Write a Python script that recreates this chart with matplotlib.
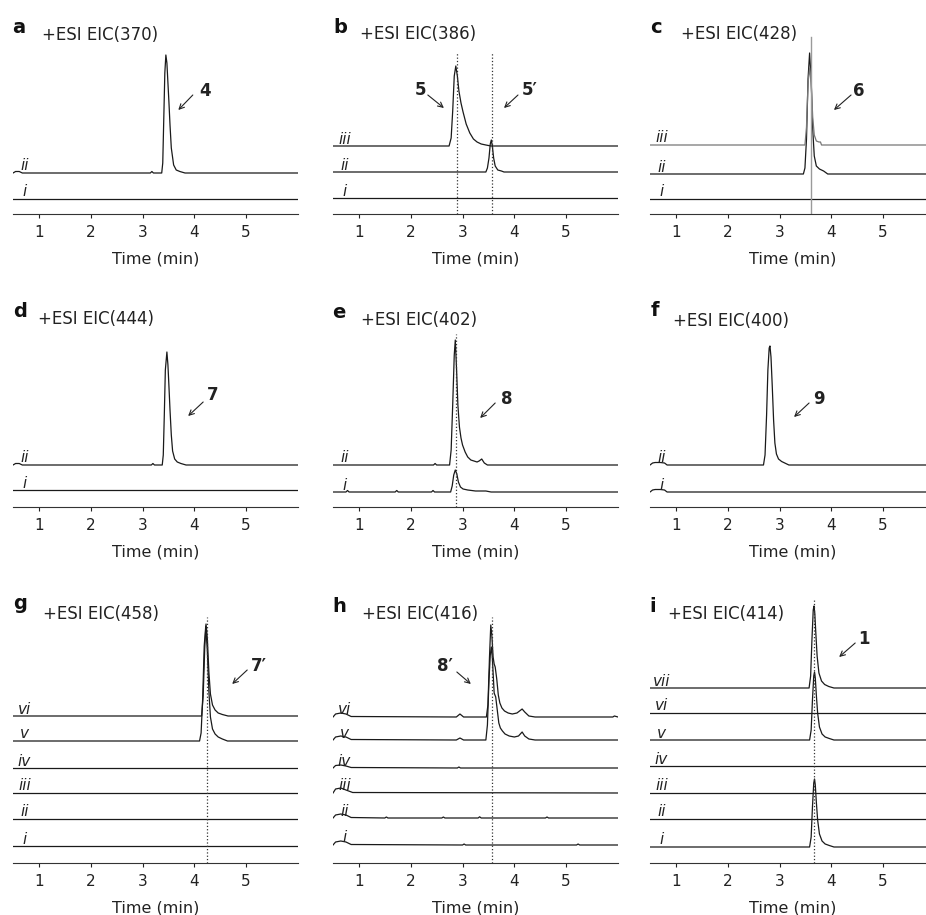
import matplotlib
matplotlib.use("Agg")
import matplotlib.pyplot as plt

W, H = 926, 915
plt.rcParams['font.family'] = ['DejaVu Sans']

# ---------------- data (time in min, intensity in relative units) ----------------
FLAT_T = [0.5, 6.0]
FLAT_Y = [0, 0]

# panel a  EIC(370)
a_ii_t = [0.5, 0.55, 0.62, 0.68, 3.15, 3.18, 3.21, 3.37, 3.39, 3.41, 3.43, 3.45, 3.47, 3.49, 3.51, 3.53, 3.555, 3.60, 3.65, 3.72, 3.82, 6.0]
a_ii_y = [0, 1.5, 1.5, 0, 0, 1.5, 0, 0, 10, 55, 100, 118, 110, 90, 70, 48, 25, 8, 3, 1.5, 0, 0]

# panel b  EIC(386)
b_ii_t = [0.5, 3.45, 3.48, 3.51, 3.535, 3.555, 3.575, 3.60, 3.63, 3.68, 3.75, 3.80, 6.0]
b_ii_y = [0, 0, 4, 14, 28, 32, 26, 14, 6, 2, 1, 0, 0]
b_iii_t = [0.5, 2.74, 2.78, 2.81, 2.84, 2.87, 2.90, 2.93, 2.97, 3.01, 3.07, 3.14, 3.21, 3.28, 3.36, 3.45, 3.55, 6.0]
b_iii_y = [0, 0, 8, 35, 70, 80, 70, 55, 43, 34, 22, 13, 7, 4, 2, 1, 0, 0]

# panel c  EIC(428)
c_ii_t = [0.5, 3.46, 3.49, 3.52, 3.55, 3.58, 3.61, 3.64, 3.67, 3.71, 3.77, 3.85, 3.93, 6.0]
c_ii_y = [0, 0, 6, 35, 95, 121, 95, 45, 18, 8, 5, 3, 0, 0]
c_iii_t = [0.5, 3.49, 3.52, 3.55, 3.58, 3.61, 3.64, 3.67, 3.71, 3.76, 3.79, 3.81, 6.0]
c_iii_y = [0, 0, 18, 62, 77, 62, 28, 10, 4, 3, 3, 0, 0]

# panel d  EIC(444)
d_ii_t = [0.5, 0.55, 0.62, 0.68, 3.17, 3.20, 3.23, 3.38, 3.40, 3.42, 3.44, 3.47, 3.49, 3.51, 3.53, 3.555, 3.58, 3.62, 3.67, 3.74, 3.84, 6.0]
d_ii_y = [0, 1.5, 1.5, 0, 0, 1.5, 0, 0, 10, 50, 95, 113, 100, 78, 55, 30, 14, 6, 3, 1.5, 0, 0]

# panel e  EIC(402)
e_i_t = [0.5, 0.75, 0.78, 0.81, 1.70, 1.73, 1.76, 2.40, 2.43, 2.46, 2.77, 2.80, 2.83, 2.86, 2.89, 2.92, 2.96, 3.01, 3.10, 3.25, 3.45, 3.55, 6.0]
e_i_y = [0, 0, 1.5, 0, 0, 1.5, 0, 0, 1.5, 0, 0, 6, 17, 22, 18, 10, 5, 3, 2, 1, 1, 0, 0]
e_ii_t = [0.5, 2.44, 2.47, 2.50, 2.75, 2.78, 2.81, 2.84, 2.86, 2.885, 2.91, 2.94, 2.97, 3.0, 3.05, 3.1, 3.16, 3.22, 3.28, 3.32, 3.37, 3.42, 3.48, 6.0]
e_ii_y = [0, 0, 1.5, 0, 0, 15, 60, 110, 125, 95, 60, 38, 27, 20, 13, 8, 5, 4, 3, 4, 6, 2, 0, 0]

# panel f  EIC(400)
f_i_t = [0.5, 0.55, 0.6, 0.7, 0.78, 0.83, 6.0]
f_i_y = [0, 2, 2.5, 2.5, 2, 0, 0]
f_ii_t = [0.5, 0.55, 0.6, 0.7, 0.78, 0.83, 2.69, 2.72, 2.75, 2.775, 2.80, 2.815, 2.835, 2.86, 2.885, 2.91, 2.94, 2.98, 3.04, 3.10, 3.18, 6.0]
f_ii_y = [0, 2, 2.5, 2.5, 2, 0, 0, 10, 50, 95, 117, 119, 108, 78, 45, 22, 11, 6, 3.5, 2, 0, 0]

# panel g  EIC(458)
g_v_t = [0.5, 4.10, 4.13, 4.16, 4.19, 4.22, 4.25, 4.28, 4.31, 4.35, 4.40, 4.46, 4.54, 4.64, 6.0]
g_v_y = [0, 0, 8, 42, 95, 115, 90, 50, 24, 12, 7, 4, 2, 0, 0]
g_vi_t = [0.5, 4.14, 4.17, 4.20, 4.225, 4.25, 4.28, 4.31, 4.35, 4.40, 4.46, 4.54, 4.65, 6.0]
g_vi_y = [0, 0, 20, 68, 92, 78, 44, 22, 11, 6, 3, 1.5, 0, 0]

# panel h  EIC(416)
h_i_t = [0.5, 0.55, 0.65, 0.75, 0.85, 3.0, 3.03, 3.06, 5.2, 5.23, 5.26, 6.0]
h_i_y = [0, 3, 4, 3, 0.5, 0, 1, 0, 0, 1, 0, 0]
h_ii_t = [0.5, 0.55, 0.65, 0.75, 0.85, 1.5, 1.53, 1.56, 2.6, 2.63, 2.66, 3.3, 3.33, 3.36, 4.6, 4.63, 4.66, 6.0]
h_ii_y = [0, 3, 4, 3, 0.5, 0, 1, 0, 0, 1, 0, 0, 1.2, 0, 0, 1, 0, 0]
h_iii_t = [0.5, 0.55, 0.65, 0.75, 0.88, 6.0]
h_iii_y = [0, 4, 5, 3, 0.5, 0]
h_iv_t = [0.5, 0.55, 0.65, 0.75, 0.85, 2.9, 2.93, 2.96, 6.0]
h_iv_y = [0, 2.5, 3, 2, 0.5, 0, 1, 0, 0]
h_v_t = [0.5, 0.55, 0.65, 0.75, 0.85, 2.88, 2.95, 3.02, 3.45, 3.48, 3.51, 3.535, 3.555, 3.575, 3.595, 3.61, 3.64, 3.67, 3.70, 3.73, 3.77, 3.82, 3.90, 4.00, 4.08, 4.15, 4.20, 4.28, 4.40, 6.0]
h_v_y = [0, 3, 4, 3, 0.5, 0, 2, 0, 0, 15, 60, 85, 93, 82, 62, 47, 43, 30, 17, 12, 9, 6, 4, 3, 4, 8, 4, 1, 0, 0]
h_vi_t = [0.5, 0.55, 0.65, 0.75, 0.85, 2.88, 2.95, 3.02, 3.46, 3.49, 3.52, 3.545, 3.565, 3.59, 3.61, 3.63, 3.66, 3.69, 3.72, 3.76, 3.81, 3.88, 3.96, 4.05, 4.10, 4.15, 4.20, 4.28, 4.40, 5.90, 5.93, 6.0]
h_vi_y = [0, 3, 4, 3, 0.5, 0, 3, 0, 0, 12, 60, 92, 82, 60, 53, 50, 38, 22, 14, 9, 6, 4, 3, 4, 6, 8, 5, 1, 0, 0, 1, 0]

# panel i  EIC(414)
i_i_t = [0.5, 3.58, 3.61, 3.635, 3.66, 3.675, 3.69, 3.71, 3.735, 3.77, 3.82, 3.88, 3.96, 4.05, 6.0]
i_i_y = [0, 0, 10, 40, 64, 68, 62, 45, 27, 13, 6, 3, 1.5, 0, 0]
i_v_t = [0.5, 3.58, 3.61, 3.635, 3.66, 3.675, 3.69, 3.71, 3.735, 3.77, 3.82, 3.88, 3.96, 4.05, 6.0]
i_v_y = [0, 0, 10, 40, 64, 68, 62, 45, 27, 13, 6, 3, 1.5, 0, 0]
i_vii_t = [0.5, 3.57, 3.60, 3.625, 3.65, 3.665, 3.68, 3.70, 3.725, 3.76, 3.81, 3.87, 3.95, 4.05, 6.0]
i_vii_y = [0, 0, 12, 48, 78, 82, 75, 55, 32, 15, 7, 3.5, 1.5, 0, 0]

TICKS = [1, 2, 3, 4, 5]
ROMAN = ['i', 'ii', 'iii', 'iv', 'v', 'vi', 'vii']

# ---------------- layout (pixels) ----------------
COL_LEFT = [13, 333, 650]
AX_W = 285
ROW_BOT = [214, 507, 863]
ROW_TOP = [30, 320, 595]
XLIM = (0.5, 6.0)

fig = plt.figure(figsize=(W / 100, H / 100), dpi=100)

def make_ax(r, c):
    left, bot, top = COL_LEFT[c], ROW_BOT[r], ROW_TOP[r]
    ax = fig.add_axes([left / W, 1 - bot / H, AX_W / W, (bot - top) / H])
    ax.set_xlim(*XLIM)
    ax.set_ylim(0, bot - top)
    ax.patch.set_visible(False)
    for s in ['top', 'left', 'right']:
        ax.spines[s].set_visible(False)
    ax.spines['bottom'].set_linewidth(0.8)
    ax.spines['bottom'].set_color('#333333')
    ax.set_yticks([])
    ax.set_xticks(TICKS)
    ax.set_xticklabels([str(t) for t in TICKS])
    ax.tick_params(axis='x', direction='out', length=3, width=0.8, pad=5,
                   labelsize=11, colors='#222222')
    ax.set_xlabel('Time (min)', fontsize=11.5, labelpad=8.5, color='#222222')
    return ax

def ftext(x, y, s, **kw):
    fig.text(x / W, 1 - y / H, s, **kw)

def draw(ax, traces, offsets, colors=None):
    for k, ((t, y), off) in enumerate(zip(traces, offsets)):
        col = colors[k] if colors else '#1a1a1a'
        ax.plot(t, [v + off for v in y], color=col, lw=0.9, solid_joinstyle='round')
        ax.text(0.72, off + 2.5, ROMAN[k], style='italic', fontsize=11,
                ha='center', va='baseline', color='#222222')

def vref(ax, x, top, ls=':', color='#333333', lw=0.9):
    ax.plot([x, x], [0, top], ls=ls, color=color, lw=lw)

def label(ax, s, tx, ty, x0, y0, x1, y1):
    ax.text(tx, ty, s, fontsize=12, fontweight='bold', ha='center', va='center', color='#222222')
    ax.annotate('', xy=(x1, y1), xytext=(x0, y0),
                arrowprops=dict(arrowstyle='->', lw=0.8, color='#222222',
                                mutation_scale=9, shrinkA=0, shrinkB=0))

def header(letter, title, lx, ly, tx, ty):
    ftext(lx, ly, letter, fontsize=14, fontweight='bold', ha='left', va='baseline', color='#111111')
    ftext(tx, ty, title, fontsize=12, ha='left', va='baseline', color='#222222')

# a
ax = make_ax(0, 0)
draw(ax, [(FLAT_T, FLAT_Y), (a_ii_t, a_ii_y)], [15, 41])
label(ax, '4', 4.21, 123, 3.97, 119, 3.69, 104)
header('a', '+ESI EIC(370)', 12, 33, 42, 40)

# b
ax = make_ax(0, 1)
draw(ax, [(FLAT_T, FLAT_Y), (b_ii_t, b_ii_y), (b_iii_t, b_iii_y)], [16, 42, 68])
vref(ax, 2.9, 161)
vref(ax, 3.56, 161)
label(ax, '5', 2.18, 124, 2.33, 119, 2.64, 106)
label(ax, '5\u2032', 4.30, 124, 4.07, 119, 3.80, 106)
header('b', '+ESI EIC(386)', 333, 33, 360, 39)

# c
ax = make_ax(0, 2)
draw(ax, [(FLAT_T, FLAT_Y), (c_ii_t, c_ii_y), (c_iii_t, c_iii_y)], [15, 40, 69],
     colors=['#1a1a1a', '#1a1a1a', '#777777'])
vref(ax, 3.6, 177, ls='-', color='#9a9a9a', lw=1.0)
label(ax, '6', 4.53, 123, 4.38, 119, 4.05, 104)
header('c', '+ESI EIC(428)', 650, 33, 681, 39)

# d
ax = make_ax(1, 0)
draw(ax, [(FLAT_T, FLAT_Y), (d_ii_t, d_ii_y)], [17, 42])
label(ax, '7', 4.36, 112, 4.17, 105, 3.88, 91)
header('d', '+ESI EIC(444)', 13, 317, 38, 324)

# e
ax = make_ax(1, 1)
draw(ax, [(e_i_t, e_i_y), (e_ii_t, e_ii_y)], [15, 42])
vref(ax, 2.865, 173)
label(ax, '8', 3.86, 108, 3.63, 104, 3.34, 89)
header('e', '+ESI EIC(402)', 332, 318, 361, 325)

# f
ax = make_ax(1, 2)
draw(ax, [(f_i_t, f_i_y), (f_ii_t, f_ii_y)], [15, 42])
label(ax, '9', 3.76, 108, 3.57, 104, 3.28, 90)
header('f', '+ESI EIC(400)', 651, 316, 673, 326)

# g
ax = make_ax(2, 0)
draw(ax, [(FLAT_T, FLAT_Y)] * 4 + [(g_v_t, g_v_y), (g_vi_t, g_vi_y)],
     [17, 44, 70, 95, 122, 147])
vref(ax, 4.235, 246)
label(ax, '7\u2032', 5.25, 197, 5.02, 193, 4.73, 179)
header('g', '+ESI EIC(458)', 13, 609, 43, 619)

# h
ax = make_ax(2, 1)
draw(ax, [(h_i_t, h_i_y), (h_ii_t, h_ii_y), (h_iii_t, h_iii_y), (h_iv_t, h_iv_y),
          (h_v_t, h_v_y), (h_vi_t, h_vi_y)], [18, 45, 70, 95, 123, 146])
vref(ax, 3.565, 246)
label(ax, '8\u2032', 2.66, 197, 2.89, 191, 3.16, 179)
header('h', '+ESI EIC(416)', 332, 612, 362, 619)

# i
ax = make_ax(2, 2)
draw(ax, [(i_i_t, i_i_y), (FLAT_T, FLAT_Y), (FLAT_T, FLAT_Y), (FLAT_T, FLAT_Y),
          (i_v_t, i_v_y), (FLAT_T, FLAT_Y), (i_vii_t, i_vii_y)],
     [16, 44, 70, 97, 123, 150, 175])
vref(ax, 3.665, 265)
label(ax, '1', 4.63, 224, 4.46, 220, 4.15, 206)
header('i', '+ESI EIC(414)', 649, 612, 668, 619)

fig.savefig('out.png', dpi=100)
